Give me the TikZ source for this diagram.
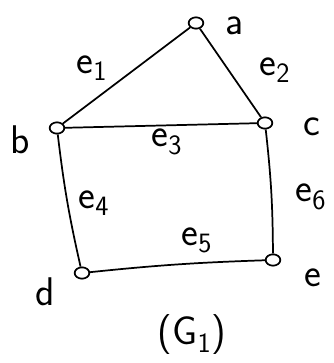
\documentclass[tikz,border=0pt]{standalone}
\usepackage{xcolor}
\usepackage{tikz}
\usetikzlibrary{
positioning,
shapes.geometric
}
\definecolor{ink}{HTML}{000000}

\tikzset{
vtx/.style={
ellipse,
draw=ink,
line width=1.3pt,
fill=white,
minimum width=11pt,
minimum height=8.5pt,
inner sep=0pt
},
lbl/.style={
font=\sffamily\fontsize{30}{32}\selectfont,
text=ink,
inner sep=0pt
},
edge/.style={
draw=ink,
line width=1.3pt
}
}

\begin{document}
\begin{tikzpicture}[x=0.75pt,y=-0.75pt]

\useasboundingbox (0,0) rectangle (334,363);

% vertices
\node[vtx] (a) at (196,23) {};
\node[vtx] (b) at (57,128) {};
\node[vtx] (c) at (265,123) {};
\node[vtx] (d) at (82,273) {};
\node[vtx] (e) at (273,260) {};

% vertex names
\node[lbl] (la) at (235,26) {a};
\node[lbl] (lb) at (20,140) {b};
\node[lbl] (lc) at (312,127) {c};
\node[lbl] (ld) at (45,292) {d};
\node[lbl] (le) at (313,278) {e};

% edges
\draw[edge] (a) -- (b);
\draw[edge] (a) -- (c);
\draw[edge] (b) -- (c);
\draw[edge] (b) to[bend right=3] (d);
\draw[edge] (d) to[bend left=2] (e);
\draw[edge] (c) to[bend left=3] (e);

% edge names
\node[lbl] (le1) at (92,68) {e\textsubscript{1}};
\node[lbl] (le2) at (275,70) {e\textsubscript{2}};
\node[lbl] (le3) at (167,142) {e\textsubscript{3}};
\node[lbl] (le4) at (94,203) {e\textsubscript{4}};
\node[lbl] (le5) at (197,240) {e\textsubscript{5}};
\node[lbl] (le6) at (311,197) {e\textsubscript{6}};

\node[lbl] (g1) at (192,335) {(G\textsubscript{1})};

\end{tikzpicture}
\end{document}
